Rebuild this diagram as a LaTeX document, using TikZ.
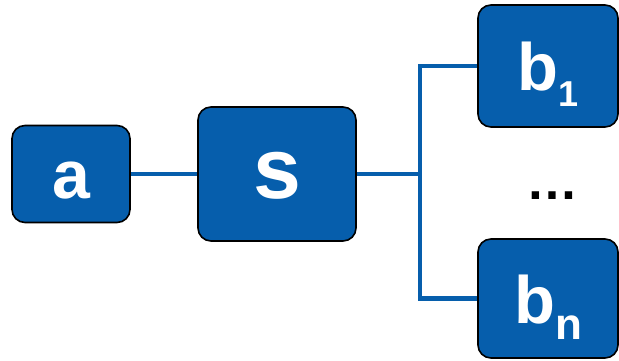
\documentclass[tikz,border=0pt]{standalone}
\usepackage{fontspec}
\setmainfont{Liberation Sans}
\pgfdeclarelayer{back}
\pgfsetlayers{back,main}
\definecolor{blu}{RGB}{6,94,172}
\tikzstyle{box}=[draw=black,line width=1.6pt,fill=blu,rounded corners=13pt,text=white,inner sep=0pt,text height=50pt,text depth=0pt]
\tikzstyle{link}=[draw=blu,line width=4.2pt]
\newcommand{\fs}[1]{\fontsize{#1}{#1}\selectfont\bfseries}
\newcommand{\bsub}[2]{b\lower16pt\hbox{\fs{#1}#2}}

\begin{document}
\begin{tikzpicture}[x=1pt,y=1pt]
	\useasboundingbox (0,0) rectangle (619,361);
	\node[box,minimum width=118pt,minimum height=97pt,font=\fs{68}] (a) at (71,187) {a};
	\node[box,minimum width=158pt,minimum height=134pt,font=\fs{86}] (s) at (277,187) {s};
	\node[box,minimum width=140pt,minimum height=122pt,font=\fs{67}] (b1) at (548,295) {\bsub{36}{1}};
	\node[box,minimum width=140pt,minimum height=119pt,font=\fs{67}] (bn) at (548,62.5) {\bsub{44}{n}};
	\node[font=\fs{52}] (dots) at (552.5,165) {…};
	\coordinate (fork) at (420,187);
	
	\begin{pgfonlayer}{back}
	\path[link]
		(a) -- (s)
		(s) -- (fork)
		(fork) |- (b1)
		(fork) |- (bn);
	\end{pgfonlayer}
\end{tikzpicture}
\end{document}
